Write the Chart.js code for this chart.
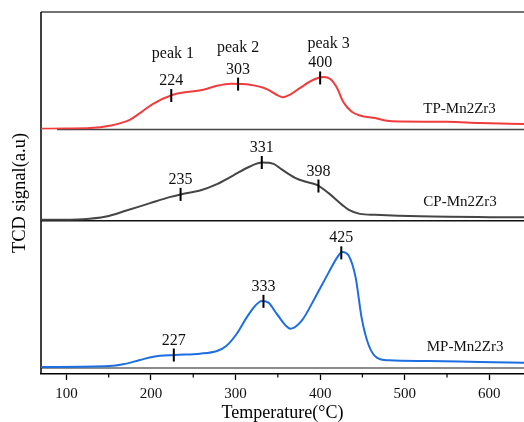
<!DOCTYPE html>
<html>
<head>
<meta charset="utf-8">
<title>H2-TPR</title>
<script src="https://cdn.jsdelivr.net/npm/chart.js@4.4.1/dist/chart.umd.min.js"></script>
<style>
  html, body { margin: 0; padding: 0; background: #fff; }
  #wrap { width: 524px; height: 422px; }
</style>
</head>
<body>
<div id="wrap"><canvas id="tpr" width="524" height="422"></canvas></div>
<script>
// --- TPR traces: temperature (°C) and TCD signal (a.u., above each baseline) ---
const tpTemp   = [70, 100, 128, 151, 175, 187, 202, 226, 242, 262, 278, 295, 317, 337, 350, 356, 364, 376, 392, 404, 412, 420, 427, 437, 447, 465, 479, 495, 550, 589, 641];
const tpSignal = [0.7, 1.0, 1.4, 3.7, 9.7, 16.4, 25.4, 34.7, 37.4, 39.7, 43.7, 45.7, 44.7, 40.4, 34.0, 32.2, 34.7, 41.4, 49.7, 52.4, 50.4, 41.4, 28.0, 18.0, 14.0, 11.4, 8.7, 8.0, 7.7, 6.4, 5.4];

const cpTemp   = [70, 120, 147, 171, 199, 222, 236, 258, 278, 297, 317, 331, 345, 354, 371, 382, 396, 410, 426, 434, 447, 465, 518, 641];
const cpSignal = [1.0, 1.7, 4.3, 10.3, 17.7, 23.7, 26.7, 30.3, 36.7, 45.3, 54.3, 58.3, 57.0, 51.7, 42.7, 39.3, 36.0, 27.7, 16.0, 11.0, 7.0, 6.0, 4.5, 3.5];

const mpTemp   = [70, 151, 167, 187, 203, 228, 258, 278, 289, 301, 313, 323, 331, 339, 349, 365, 378, 394, 410, 420, 426, 434, 442, 449, 457, 467, 481, 528, 588, 641];
const mpSignal = [1.0, 2.0, 3.7, 8.0, 11.3, 13.0, 14.3, 17.0, 22.0, 33.7, 50.3, 62.0, 67.0, 65.3, 53.7, 39.3, 47.0, 70.3, 95.3, 110.3, 116.0, 112.0, 90.3, 50.3, 23.7, 10.3, 7.7, 7.0, 6.0, 5.3];

// reduction peak positions (°C)
const tpPeaks = [224, 303, 400];
const cpPeaks = [235, 331, 398];
const mpPeaks = [227, 333, 425];
const peakNames = ['peak 1', 'peak 2', 'peak 3'];

// x axis ticks
const xMajor = [100, 200, 300, 400, 500, 600];
const xMinor = [150, 250, 350, 450, 550];

const serif = 'Liberation Serif, Times New Roman, serif';

const traces = [
  { name: 'MP-Mn2Zr3', temp: mpTemp, signal: mpSignal, peaks: mpPeaks, axis: 'yMP', color: '#1d6ee0', labelAt: [526, 17] },
  { name: 'CP-Mn2Zr3', temp: cpTemp, signal: cpSignal, peaks: cpPeaks, axis: 'yCP', color: '#454545', labelAt: [522, 15] },
  { name: 'TP-Mn2Zr3', temp: tpTemp, signal: tpSignal, peaks: tpPeaks, axis: 'yTP', color: '#f03c3c', labelAt: [522, 16.7] }
];

function valueAt(temps, sig, t) {
  for (let i = 1; i < temps.length; i++) {
    if (t <= temps[i]) {
      const f = (t - temps[i - 1]) / (temps[i] - temps[i - 1]);
      return sig[i - 1] + f * (sig[i] - sig[i - 1]);
    }
  }
  return sig[sig.length - 1];
}

// frame and panel dividers go under the traces
const framePlugin = {
  id: 'frame',
  beforeDatasetsDraw(chart) {
    const { ctx, chartArea: a, scales } = chart;
    ctx.save();
    const hline = (y, x0, color, w) => {
      ctx.strokeStyle = color; ctx.lineWidth = w;
      ctx.beginPath(); ctx.moveTo(x0, y); ctx.lineTo(a.right, y); ctx.stroke();
    };
    hline(a.top, a.left, '#444', 1.5);
    hline(scales.yTP.getPixelForValue(0), a.left + 16, '#444', 1.5);
    hline(scales.yCP.getPixelForValue(0), a.left, '#111', 1.5);
    hline(scales.yMP.getPixelForValue(0), a.left, '#666', 1.5);

    ctx.strokeStyle = '#000'; ctx.lineWidth = 1.5;
    ctx.beginPath(); ctx.moveTo(a.left, a.top); ctx.lineTo(a.left, a.bottom); ctx.stroke();

    ctx.lineWidth = 1.2;
    xMinor.forEach(v => {
      const px = scales.x.getPixelForValue(v);
      ctx.beginPath(); ctx.moveTo(px, a.bottom); ctx.lineTo(px, a.bottom + 3.5); ctx.stroke();
    });
    ctx.restore();
  }
};

// peak markers, their values, trace names and the y title
const labelPlugin = {
  id: 'labels',
  afterDatasetsDraw(chart) {
    const { ctx, chartArea: a, scales } = chart;
    const x = scales.x;
    ctx.save();
    ctx.fillStyle = '#111';
    ctx.textAlign = 'center';
    ctx.textBaseline = 'alphabetic';
    traces.forEach(tr => {
      const ys = scales[tr.axis];
      tr.peaks.forEach(p => {
        const px = x.getPixelForValue(p);
        const py = ys.getPixelForValue(valueAt(tr.temp, tr.signal, p));
        ctx.strokeStyle = '#000'; ctx.lineWidth = 2;
        ctx.beginPath(); ctx.moveTo(px, py - 6.5); ctx.lineTo(px, py + 6.5); ctx.stroke();
        ctx.font = '16px ' + serif;
        ctx.fillText(String(p), px, py - 10.5);
      });
      ctx.font = '15px ' + serif;
      ctx.textAlign = 'left';
      ctx.fillText(tr.name, x.getPixelForValue(tr.labelAt[0]), ys.getPixelForValue(tr.labelAt[1]));
      ctx.textAlign = 'center';
    });

    // peak names above the top trace
    const peakLabelPos = [[226, 71.7], [303, 77.7], [410, 81.7]];
    ctx.font = '16px ' + serif;
    peakNames.forEach((t, i) => {
      ctx.fillText(t, x.getPixelForValue(peakLabelPos[i][0]), scales.yTP.getPixelForValue(peakLabelPos[i][1]));
    });

    ctx.translate(20, (a.top + a.bottom) / 2);
    ctx.rotate(-Math.PI / 2);
    ctx.font = '18.5px ' + serif;
    ctx.textBaseline = 'middle';
    ctx.fillStyle = '#000';
    ctx.fillText('TCD signal(a.u)', 0, 0);
    ctx.restore();
  }
};

const hiddenY = (weight, min, max) => ({
  type: 'linear', display: false, position: 'left',
  stack: 'tcd', stackWeight: weight, min: min, max: max
});

new Chart(document.getElementById('tpr'), {
  type: 'line',
  data: {
    datasets: traces.map(tr => ({
      label: tr.name,
      data: tr.temp.map((t, i) => ({ x: t, y: tr.signal[i] })),
      yAxisID: tr.axis,
      borderColor: tr.color,
      borderWidth: 2,
      pointRadius: 0,
      cubicInterpolationMode: 'monotone',
      fill: false
    }))
  },
  options: {
    responsive: false,
    devicePixelRatio: 1,
    animation: false,
    layout: { padding: { left: 41, top: 12, right: 0, bottom: 0 } },
    plugins: { legend: { display: false }, tooltip: { enabled: false } },
    scales: {
      x: {
        type: 'linear', min: 70, max: 641, position: 'bottom',
        afterBuildTicks: s => { s.ticks = xMajor.concat(xMinor).sort((p, q) => p - q).map(v => ({ value: v })); },
        afterFit: s => { s.height = 48; },
        ticks: {
          autoSkip: false, maxRotation: 0, padding: 5, color: '#111',
          font: { family: serif, size: 15 },
          callback: v => (v % 100 === 0 ? String(v) : '')
        },
        grid: {
          drawOnChartArea: false, tickLength: 6, tickWidth: 1.3,
          tickColor: c => (c.tick && c.tick.value % 100 === 0 ? '#000' : 'rgba(0,0,0,0)')
        },
        border: { color: '#000', width: 1.5 },
        title: {
          display: true, text: 'Temperature(°C)', color: '#000',
          font: { family: serif, size: 18 }, padding: { top: 0, bottom: -2 }
        }
      },
      yMP: hiddenY(153, -6, 147),
      yCP: hiddenY(91.3, 0, 91.3),
      yTP: hiddenY(117.4, 0, 117.4)
    }
  },
  plugins: [framePlugin, labelPlugin]
});
</script>
</body>
</html>
